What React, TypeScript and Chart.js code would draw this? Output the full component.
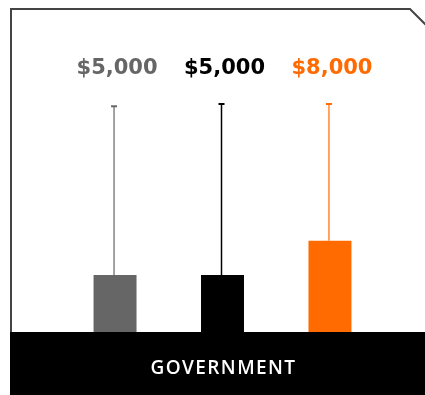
import React, { useEffect, useRef } from "react";
import { Chart, registerables } from "chart.js";

Chart.register(...registerables);

const categories = ["GOVERNMENT"];
const seriesNames = ["Group A", "Group B", "Group C"];
const seriesValues = [5000, 5000, 8000];
const seriesHigh = [19800, 20000, 20000];
const valueLabels = ["$5,000", "$5,000", "$8,000"];
const seriesColors = ["#666666", "#000000", "#ff6b00"];

const frameAndFooter = {
  id: "frameAndFooter",
  beforeDraw(chart: any) {
    const { ctx, chartArea, scales } = chart;
    ctx.save();
    ctx.fillStyle = "#ffffff";
    ctx.fillRect(0, 0, chart.width, chart.height);
    // footer band
    ctx.fillStyle = "#000000";
    ctx.fillRect(10, chartArea.bottom, chart.width - 10, chart.height - chartArea.bottom);
    // frame
    ctx.strokeStyle = "#444444";
    ctx.lineWidth = 2;
    ctx.beginPath();
    ctx.moveTo(11, chartArea.bottom);
    ctx.lineTo(11, 9);
    ctx.lineTo(410, 9);
    ctx.lineTo(427, 26);
    ctx.stroke();
    // category label
    const x = scales.x.getPixelForValue(0);
    ctx.fillStyle = "#ffffff";
    ctx.font = "600 19px 'Open Sans'";
    (ctx as any).letterSpacing = "1.4px";
    ctx.textAlign = "center";
    ctx.textBaseline = "middle";
    ctx.fillText(categories[0], x + 1, chartArea.bottom + 37);
    ctx.restore();
  },
};

const whiskersAndLabels = {
  id: "whiskersAndLabels",
  afterDatasetsDraw(chart: any) {
    const { ctx, chartArea, scales } = chart;
    ctx.save();
    chart.data.datasets.forEach((ds: any, i: number) => {
      const meta = chart.getDatasetMeta(i);
      const bar = meta.data[0];
      const x = bar.x - 1;
      const yTop = scales.y.getPixelForValue(seriesHigh[i]);
      ctx.strokeStyle = seriesColors[i];
      ctx.lineWidth = i === 1 ? 1.5 : 1.2;
      ctx.beginPath();
      ctx.moveTo(x, bar.y);
      ctx.lineTo(x, yTop);
      ctx.stroke();
      ctx.lineWidth = 2;
      ctx.beginPath();
      ctx.moveTo(x - 3, yTop);
      ctx.lineTo(x + 3, yTop);
      ctx.stroke();
      ctx.fillStyle = seriesColors[i];
      ctx.font = "bold 21px 'DejaVu Sans'";
      ctx.textAlign = "center";
      ctx.textBaseline = "middle";
      ctx.fillText(valueLabels[i], bar.x + 2, chartArea.top + 22);
    });
    ctx.restore();
  },
};

export default function App() {
  const ref = useRef<HTMLCanvasElement>(null);
  useEffect(() => {
    if (!ref.current) return;
    const chart = new Chart(ref.current, {
      type: "bar",
      data: {
        labels: categories,
        datasets: seriesNames.map((name, i) => ({
          label: name,
          data: [seriesValues[i]],
          backgroundColor: seriesColors[i],
          borderWidth: 0,
          categoryPercentage: 0.796,
          barPercentage: 0.4,
        })),
      },
      options: {
        responsive: false,
        maintainAspectRatio: false,
        animation: false,
        layout: { padding: { left: 20, right: 0, top: 47, bottom: 63 } },
        plugins: { legend: { display: false }, tooltip: { enabled: false }, title: { display: false } },
        scales: {
          x: { display: false },
          y: { display: false, min: 0, max: 25000 },
        },
      },
      plugins: [frameAndFooter, whiskersAndLabels],
    });
    return () => chart.destroy();
  }, []);
  return (
    <div style={{ position: "absolute", left: 0, top: 0, width: 425, height: 395 }}>
      <canvas ref={ref} width={425} height={395} style={{ display: "block" }} />
    </div>
  );
}
